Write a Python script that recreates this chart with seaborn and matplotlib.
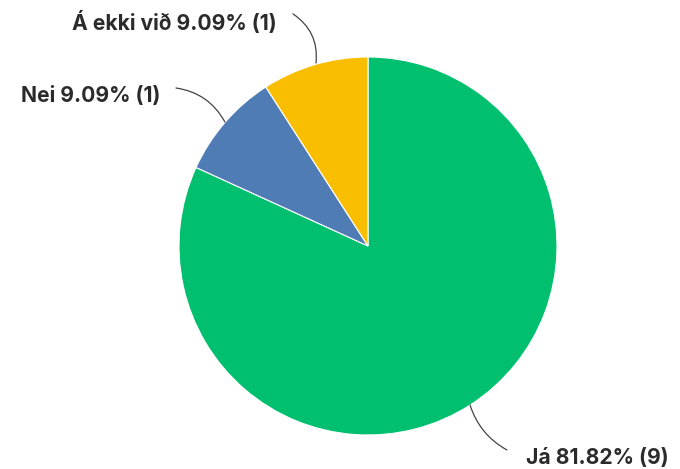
import matplotlib
matplotlib.use('Agg')
import matplotlib.pyplot as plt
import seaborn as sns

# survey answers, drawn clockwise from 12 o'clock
labels = ['Já', 'Nei', 'Á ekki við']
percents = [81.82, 9.09, 9.09]
counts = [9, 1, 1]
colors = ['#00bf6f', '#507cb6', '#f9be00']

sns.set_theme(style='white')
plt.rcParams['font.family'] = ['Inter', 'DejaVu Sans']

fig = plt.figure(figsize=(6.8, 4.69), dpi=100)
ax = fig.add_axes([0.2632, 0.0725, 0.5559, 0.806])

wedges, _ = ax.pie(counts, colors=colors, startangle=90, counterclock=False,
                   radius=1, wedgeprops=dict(edgecolor='white', linewidth=0.8))
ax.set_xlim(-1, 1)
ax.set_ylim(-1, 1)
ax.set_aspect('equal')
ax.axis('off')

# label placement: (point on edge, line start near text, text anchor, rad)
spots = [
    ((0.540, -0.841), (0.735, -1.079), 'left', -0.2),
    ((-0.757, 0.656), (-1.016, 0.836), 'right', -0.25),
    ((-0.275, 0.968), (-0.397, 1.228), 'right', -0.3),
]

for lab, pct, n, (edge, start, ha, rad) in zip(labels, percents, counts, spots):
    ax.annotate('', xy=edge, xytext=start,
                arrowprops=dict(arrowstyle='-', color='#444444', lw=0.9,
                                shrinkA=0, shrinkB=0,
                                connectionstyle=f'arc3,rad={rad}'),
                annotation_clip=False)
    tx = start[0] + (0.1 if ha == 'left' else -0.085)
    ty = start[1] - 0.045
    ax.text(tx, ty, f'{lab} {pct:.2f}% ({n})', ha=ha, va='center',
            fontsize=15.2, fontweight='bold', color='#2b2b2b', clip_on=False)

fig.savefig('out.png', dpi=100)
